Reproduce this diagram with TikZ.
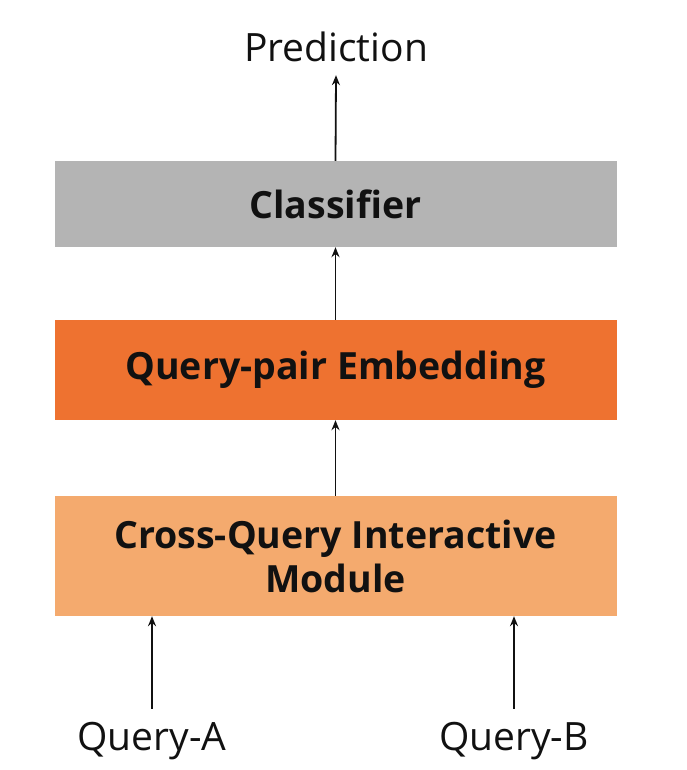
\documentclass[tikz,border=0pt]{standalone}
\usepackage{fontspec}
\setmainfont{Open Sans}
\usepackage{tikz}
\usetikzlibrary{arrows.meta,positioning,calc}
\definecolor{ink}{HTML}{111111}
\definecolor{cgray}{HTML}{B4B4B4}
\definecolor{cdark}{HTML}{EE7230}
\definecolor{clight}{HTML}{F4AA6E}

\begin{document}
\begin{tikzpicture}[x=1pt,y=1pt,
    block/.style={minimum width=562pt,inner sep=0pt,align=center,text=ink,
      font=\fontsize{37.5}{44}\selectfont\bfseries},
    lbl/.style={font=\fontsize{39}{46}\selectfont,text=ink,inner sep=13pt},
    flow/.style={-{Stealth[length=10pt,width=8pt]},line width=1.8pt,ink}]
  \useasboundingbox (0,0) rectangle (686,770);
  % stacked blocks
  \node[block,fill=clight,minimum height=120pt] (cross) at (335.5,214){Cross-Query Interactive\\Module};
  \node[block,fill=cdark,minimum height=100pt] (embed) at (335.5,400){Query-pair Embedding};
  \node[block,fill=cgray,minimum height=86pt] (cls) at (335.5,566){Classifier};
  % inputs and output
  \node[lbl] (pred) at (336,723){Prediction};
  \node[lbl] (qa) at (152,29){Query-A};
  \node[lbl] (qb) at (514,29){Query-B};
  \draw[flow] (qa.north) -- (qa.north |- cross.south);
  \draw[flow] (qb.north) -- (qb.north |- cross.south);
  \draw[flow] (cross.north -| embed.south) -- (embed.south);
  \draw[flow] (embed.north) -- (cls.south);
  \draw[flow] (cls.north) -- (pred.south);
\end{tikzpicture}
\end{document}
